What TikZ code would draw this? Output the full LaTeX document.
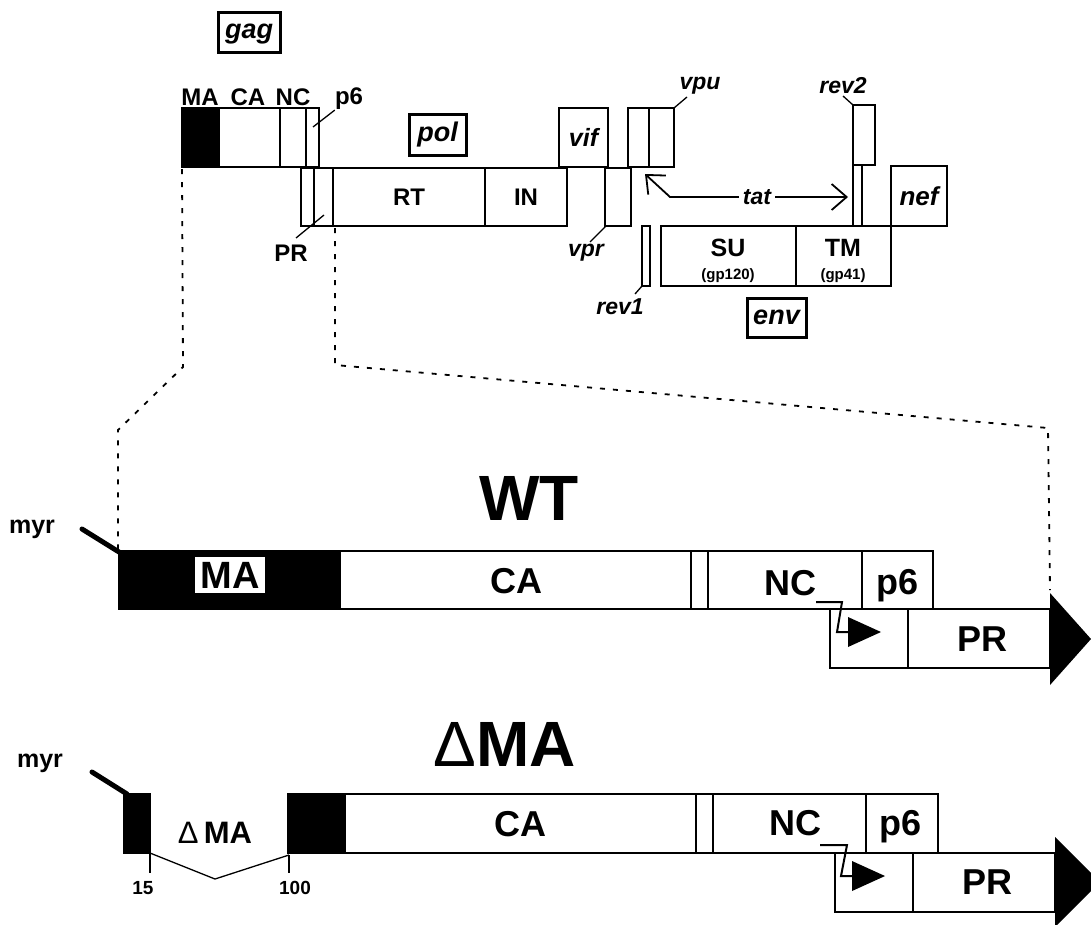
\documentclass[tikz,border=0pt]{standalone}
\usepackage{fontspec}
\setmainfont{Liberation Sans}
\usetikzlibrary{arrows.meta}
\newcommand{\gsize}[1]{\fontsize{#1}{#1}\selectfont}

\begin{document}
\begin{tikzpicture}[x=1pt, y=-1pt,
    seg/.style={draw, line width=1.3pt},
    genebox/.style={draw, line width=3pt, inner sep=0pt},
    genetext/.style={inner sep=0pt, anchor=base, font=\gsize{27}\bfseries\itshape},
    lab/.style={inner sep=0pt, font=\gsize{24}\bfseries},
    ilab/.style={inner sep=0pt, font=\gsize{23}\bfseries\itshape},
    biglab/.style={inner sep=0pt, font=\gsize{36}\bfseries},
    title/.style={inner sep=0pt, font=\gsize{64}\bfseries},
    leader/.style={line width=1.3pt},
    zig/.style={line width=2pt},
    dots/.style={line width=1.8pt, dash pattern=on 5pt off 8pt},
    myrline/.style={line width=5pt, line cap=round},
    barb/.style={line width=1.8pt, -{Straight Barb[length=15pt, width=26pt, line width=1.8pt]}}
]
\useasboundingbox (0,0) rectangle (1091,924);

% genome map: gag
\node[genebox, minimum width=62pt, minimum height=40pt] (gag) at (249,32) {};
\node[genetext] (gagtxt) at ([yshift=-6pt]gag.center) {gag};
\draw[seg, fill=black] (182,108) rectangle (219,167);
\draw[seg] (219,108) rectangle (280,167);
\draw[seg] (280,108) rectangle (306,167);
\draw[seg] (306,108) rectangle (319,167);
\node[lab, anchor=base] (gMA) at (200,105) {MA};
\node[lab, anchor=base] (gCA) at (248,105) {CA};
\node[lab, anchor=base] (gNC) at (293,105) {NC};
\node[lab] (gp6) at (349,99) {p6};
\coordinate (p6pt) at (313,127);
\draw[leader] (p6pt) -- (gp6.south west);

% pol
\node[genebox, minimum width=57pt, minimum height=41pt] (pol) at (437.5,134.5) {};
\node[genetext] (poltxt) at ([yshift=-7pt]pol.center) {pol};
\draw[seg] (301,168) rectangle (314,226);
\draw[seg] (314,168) rectangle (333,226);
\draw[seg] (333,168) rectangle (485,226);
\draw[seg] (485,168) rectangle (567,226);
\node[lab] (RT) at (409,197) {RT};
\node[lab] (IN) at (526,197) {IN};
\node[lab] (gPR) at (291,253) {PR};
\coordinate (prpt) at (324,215);
\coordinate (prend) at (296,238);
\draw[leader] (prpt) -- (prend);

% accessory genes
\draw[seg] (559,108) rectangle (608,167);
\node[ilab, font=\gsize{25}\bfseries\itshape] (vif) at (583.5,137.5) {vif};
\draw[seg] (605,168) rectangle (631,226);
\node[ilab] (vpr) at (586,253) {vpr};
\coordinate (vprpt) at (606,226);
\coordinate (vprend) at (590,242);
\draw[leader] (vprpt) -- (vprend);
\draw[seg] (628,108) rectangle (649,167);
\draw[seg] (649,108) rectangle (674,167);
\node[ilab] (vpu) at (700,86) {vpu};
\coordinate (vpupt) at (674,108);
\coordinate (vpuend) at (687,97);
\draw[leader] (vpupt) -- (vpuend);
\draw[seg] (642,226) rectangle (650,286);
\node[ilab] (rev1) at (620,307) {rev1};
\coordinate (rev1pt) at (642,286);
\coordinate (rev1end) at (635,294);
\draw[leader] (rev1pt) -- (rev1end);
\draw[seg] (853,105) rectangle (875,165);
\draw[seg] (853,165) rectangle (862,226);
\node[ilab] (rev2) at (843,86) {rev2};
\coordinate (rev2pt) at (853,105);
\coordinate (rev2end) at (843,96);
\draw[leader] (rev2pt) -- (rev2end);
\draw[seg] (891,166) rectangle (947,226);
\node[ilab, font=\gsize{26}\bfseries\itshape] (nef) at (919,196) {nef};

% tat
\node[ilab, inner sep=4pt] (tat) at (757,197) {tat};
\coordinate (tatbend) at (670,197);
\coordinate (tatL) at (645,174);
\coordinate (tatR) at (848,197);
\draw[barb] (tat.west) -- (tatbend) -- (tatL);
\draw[barb] (tat.east) -- (tatR);

% env
\draw[seg] (661,226) rectangle (796,286);
\draw[seg] (796,226) rectangle (891,286);
\node[lab, font=\gsize{25}\bfseries] (SU) at (728,248) {SU};
\node[lab, font=\gsize{15}\bfseries] (gp120) at (728,276) {(gp120)};
\node[lab, font=\gsize{25}\bfseries] (TM) at (843,248) {TM};
\node[lab, font=\gsize{15}\bfseries] (gp41) at (843,276) {(gp41)};
\node[genebox, minimum width=59pt, minimum height=39pt] (env) at (776.5,317.5) {};
\node[genetext] (envtxt) at ([yshift=-7pt]env.center) {env};

% zoom lines
\draw[dots] (182,169) -- (183,367) -- (118,430) -- (118,549);
\draw[dots] (335,228) -- (335,365) -- (1048,428) -- (1050,590);

% WT
\node[title, anchor=base] (WT) at (529,520) {WT};
\node[lab, font=\gsize{25}\bfseries, anchor=base] (myrA) at (32,533) {myr};
\coordinate (myrA1) at (82,529);
\coordinate (myrA2) at (119,552);
\draw[myrline] (myrA1) -- (myrA2);
\draw[seg, fill=black] (119,551) rectangle (340,609);
\node[biglab, font=\gsize{38}\bfseries, fill=white, minimum width=70pt, minimum height=36pt] (wMA) at (230,575) {MA};
\draw[seg] (340,551) rectangle (691,609);
\draw[seg] (691,551) rectangle (708,609);
\draw[seg] (708,551) rectangle (862,609);
\draw[seg] (862,551) rectangle (933,609);
\node[biglab] (wCA) at (516,581) {CA};
\node[biglab] (wNC) at (790,583) {NC};
\node[biglab] (wp6) at (897,586) {p6};
\draw[seg] (830,609) rectangle (908,668);
\draw[seg] (908,609) rectangle (1050,668);
\node[biglab] (wPR) at (982,639) {PR};
\fill (1050,593) -- (1091,639) -- (1050,685) -- cycle;
\draw[zig] (816,602) -- (842,602) -- (837,632) -- (848,632);
\fill (848,617) -- (881,632) -- (848,647) -- cycle;

% delta MA
\node[title, anchor=base] (dMA) at (505,766) {{\mdseries Δ}MA};
\node[lab, font=\gsize{25}\bfseries, anchor=base] (myrB) at (40,767) {myr};
\coordinate (myrB1) at (92,772);
\coordinate (myrB2) at (127,794);
\draw[myrline] (myrB1) -- (myrB2);
\draw[seg, fill=black] (124,794) rectangle (150,853);
\draw[seg, fill=black] (288,794) rectangle (345,853);
\node[lab, font=\gsize{31}\bfseries] (bMA) at (215,833) {{\mdseries Δ}\,MA};
\coordinate (t15) at (150,853);
\coordinate (t100) at (289,855);
\coordinate (vlow) at (215,879);
\draw[leader] (t15) -- (vlow) -- (t100);
\draw[leader] (t15) -- ++(0,20);
\draw[leader] (t100) -- ++(0,18);
\node[lab, font=\gsize{19}\bfseries] (n15) at (143,888) {15};
\node[lab, font=\gsize{19}\bfseries] (n100) at (295,888) {100};
\draw[seg] (345,794) rectangle (696,853);
\draw[seg] (696,794) rectangle (713,853);
\draw[seg] (713,794) rectangle (866,853);
\draw[seg] (866,794) rectangle (938,853);
\node[biglab] (dCA) at (520,824) {CA};
\node[biglab] (dNC) at (795,823) {NC};
\node[biglab] (dp6) at (900,827) {p6};
\draw[seg] (835,853) rectangle (913,912);
\draw[seg] (913,853) rectangle (1055,912);
\node[biglab] (dPR) at (987,882) {PR};
\fill (1055,837) -- (1100,882) -- (1055,927) -- cycle;
\draw[zig] (820,845) -- (847,845) -- (841,876) -- (852,876);
\fill (852,861) -- (885,876) -- (852,891) -- cycle;
\end{tikzpicture}
\end{document}
